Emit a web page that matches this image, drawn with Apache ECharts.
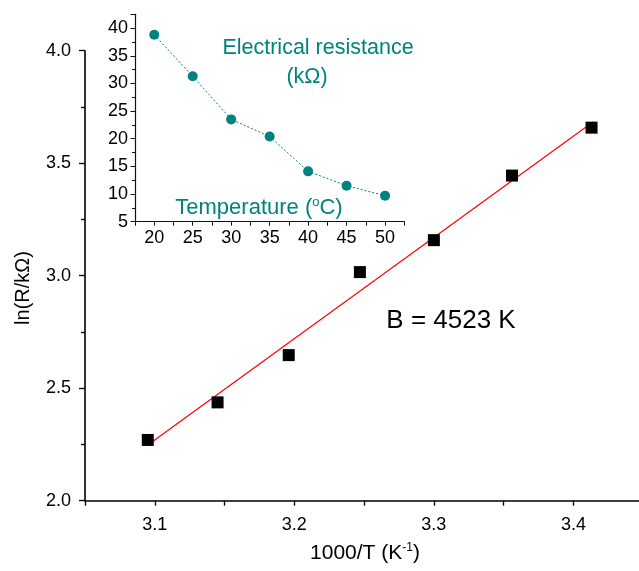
<!DOCTYPE html>
<html>
<head>
<meta charset="utf-8">
<script src="https://cdn.jsdelivr.net/npm/echarts@6/dist/echarts.min.js"></script>
<style>html,body{margin:0;padding:0;background:#fff;}#c{width:639px;height:571px;}</style>
</head>
<body>
<div id="c"></div>
<script>
// Main plot: Arrhenius-type ln(R) vs 1000/T
var invT = [3.095, 3.145, 3.196, 3.247, 3.300, 3.356, 3.413];
var lnR = [2.27, 2.437, 2.647, 3.016, 3.158, 3.445, 3.658];
var fitX = [3.096, 3.414];
var fitY = [2.252, 3.683];
// Inset: resistance vs temperature
var tempC = [20, 25, 30, 35, 40, 45, 50];
var resistance = [38.8, 31.3, 23.5, 20.4, 14.1, 11.5, 9.7];
var mainYTicks = ['2.0', '2.5', '3.0', '3.5', '4.0'];
var mainXTicks = ['3.1', '3.2', '3.3', '3.4'];

var FONT = 'Liberation Sans, Arial, sans-serif';
var TEAL = '#00827f';

var chart = echarts.init(document.getElementById('c'), null, {renderer: 'canvas'});

function near(v, step) { return Math.abs(v / step - Math.round(v / step)) < 1e-4; }

var option = {
  backgroundColor: '#fff',
  animation: false,
  grid: [
    {left: 85, right: 0, top: 50.7, bottom: 70.3},
    {left: 135, right: 234.7, top: 14.3, bottom: 349.3}
  ],
  xAxis: [
    {
      type: 'value', gridIndex: 0, min: 3.05, max: 3.447, interval: 0.05,
      axisLine: {show: true, onZero: false, lineStyle: {color: '#000', width: 1.6}},
      axisTick: {show: true, length: 5, lineStyle: {color: '#000', width: 1.3}},
      axisLabel: {
        margin: 15, color: '#000', fontSize: 18, fontFamily: FONT, showMaxLabel: false,
        formatter: function (v) { var s = v.toFixed(1); return (near(v, 0.1) && mainXTicks.indexOf(s) >= 0) ? s : ''; }
      },
      splitLine: {show: false}
    },
    {
      type: 'value', gridIndex: 1, min: 17.5, max: 52.5, interval: 2.5,
      axisLine: {show: true, onZero: false, lineStyle: {color: '#111', width: 1.2}},
      axisTick: {show: true, length: 4, lineStyle: {color: '#111', width: 1}},
      axisLabel: {
        margin: 7, color: '#000', fontSize: 18, fontFamily: FONT,
        formatter: function (v) { return near(v, 5) ? String(Math.round(v)) : ''; }
      },
      splitLine: {show: false}
    }
  ],
  yAxis: [
    {
      type: 'value', gridIndex: 0, min: 2, max: 4, interval: 0.5,
      axisLine: {show: true, onZero: false, lineStyle: {color: '#000', width: 1.6}},
      axisTick: {show: true, length: 6, lineStyle: {color: '#000', width: 1.3}},
      minorTick: {show: true, splitNumber: 2, length: 4, lineStyle: {color: '#000', width: 1.3}},
      axisLabel: {
        margin: 14, color: '#000', fontSize: 18, fontFamily: FONT,
        formatter: function (v) { var s = v.toFixed(1); return mainYTicks.indexOf(s) >= 0 ? s : ''; }
      },
      splitLine: {show: false}
    },
    {
      type: 'value', gridIndex: 1, min: 5, max: 42.5, interval: 5,
      axisLine: {show: true, onZero: false, lineStyle: {color: '#111', width: 1.2}},
      axisTick: {show: true, length: 4.5, lineStyle: {color: '#111', width: 1}},
      minorTick: {show: true, splitNumber: 2, length: 3, lineStyle: {color: '#111', width: 1}},
      axisLabel: {
        margin: 7, color: '#000', fontSize: 18, fontFamily: FONT,
        formatter: function (v) { return near(v, 5) ? String(Math.round(v)) : ''; }
      },
      splitLine: {show: false}
    }
  ],
  series: [
    {
      type: 'line', xAxisIndex: 0, yAxisIndex: 0,
      data: fitX.map(function (x, i) { return [x, fitY[i]]; }),
      showSymbol: false, symbol: 'none',
      lineStyle: {color: '#ff0000', width: 1.2},
      z: 2
    },
    {
      type: 'scatter', xAxisIndex: 0, yAxisIndex: 0,
      data: invT.map(function (x, i) { return [x, lnR[i]]; }),
      symbol: 'rect', symbolSize: 12,
      itemStyle: {color: '#000', opacity: 1},
      z: 3
    },
    {
      type: 'line', xAxisIndex: 1, yAxisIndex: 1,
      data: tempC.map(function (t, i) { return [t, resistance[i]]; }),
      symbol: 'circle', symbolSize: 10, showSymbol: true,
      lineStyle: {color: TEAL, width: 1, type: [2, 2]},
      itemStyle: {color: TEAL, opacity: 1},
      z: 3
    }
  ],
  graphic: [
    {type: 'text', x: 318, y: 48, style: {text: 'Electrical resistance', fill: TEAL, font: '21.5px ' + FONT, align: 'center', verticalAlign: 'middle'}},
    {type: 'text', x: 307, y: 77, style: {text: '(kΩ)', fill: TEAL, font: '21.5px ' + FONT, align: 'center', verticalAlign: 'middle'}},
    {type: 'text', x: 259, y: 208, style: {
      text: '{a|Temperature (}{s|o}{a|C)}', align: 'center', verticalAlign: 'middle',
      rich: {
        a: {fill: TEAL, fontSize: 22, fontFamily: FONT},
        s: {fill: TEAL, fontSize: 13, fontFamily: FONT, padding: [0, 0, 11, 0]}
      }
    }},
    {type: 'text', x: 451, y: 321, style: {text: 'B = 4523 K', fill: '#000', font: '26px ' + FONT, align: 'center', verticalAlign: 'middle'}},
    {type: 'text', x: 365, y: 553, style: {
      text: '{a|1000/T (K}{s|-1}{a|)}', align: 'center', verticalAlign: 'middle',
      rich: {
        a: {fill: '#000', fontSize: 21, fontFamily: FONT},
        s: {fill: '#000', fontSize: 12, fontFamily: FONT, padding: [0, 0, 11, 0]}
      }
    }},
    {type: 'text', x: 23, y: 288, rotation: Math.PI / 2, style: {text: 'ln(R/kΩ)', fill: '#000', font: '20px ' + FONT, align: 'center', verticalAlign: 'middle'}}
  ]
};
chart.setOption(option);
</script>
</body>
</html>
